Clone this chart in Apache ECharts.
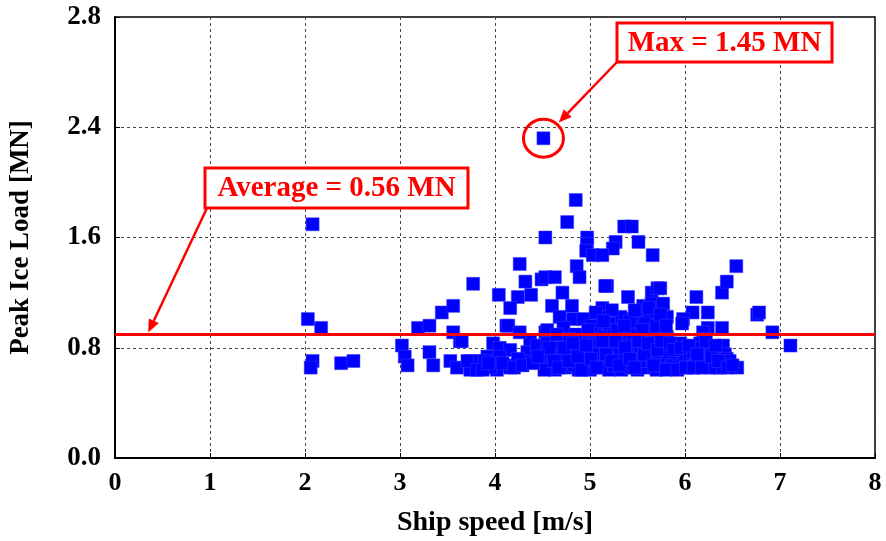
<!DOCTYPE html>
<html>
<head>
<meta charset="utf-8">
<script src="https://cdn.jsdelivr.net/npm/echarts@6/dist/echarts.min.js"></script>
<style>
  html, body { margin: 0; padding: 0; background: #fff; }
  #chart { width: 886px; height: 541px; }
</style>
</head>
<body>
<div id="chart"></div>
<script>
// Ship speed [m/s] of each measured ice impact
const shipSpeed = [
  2.03, 2.08, 2.17, 2.08, 2.06, 2.38, 2.51,
  3.02, 3.05, 3.08, 3.19, 3.31, 3.31, 3.35, 3.44, 3.56, 3.77, 3.56, 3.63, 3.53, 3.60, 3.74, 3.74, 3.65,
  3.71, 3.84, 3.92, 4.02, 4.12, 4.37, 4.45, 4.02, 4.04, 4.24, 4.38, 4.26, 4.32, 4.49, 4.16, 4.12, 4.14,
  4.26, 4.53, 3.98, 3.81, 3.89, 3.95, 4.05, 4.16, 4.34, 4.44, 4.34, 4.16, 4.05, 4.24,
  4.51, 4.85, 4.76, 4.53, 4.97, 4.97, 4.96, 5.03, 4.86, 4.53, 4.63, 4.89, 4.71, 5.18, 5.40, 5.65, 5.71,
  4.60, 4.81, 5.13, 5.56, 5.65, 4.68, 4.82, 4.93, 5.11, 5.35, 5.53, 5.66, 4.55, 4.72, 5.18, 5.39, 5.60,
  5.36, 5.44, 5.27, 5.24, 5.13, 5.51, 5.66, 5.16,
  5.74, 5.77, 5.81, 6.12, 6.24, 6.08, 5.98, 5.97, 6.39, 6.44, 6.54, 6.39, 6.24, 6.19, 6.21, 6.76, 6.78,
  6.92, 7.11, 5.77, 5.63, 5.49, 5.32, 5.81, 5.63, 5.45,
  4.55, 4.60, 4.58, 4.63, 4.68, 4.70, 4.74, 4.76, 4.80, 4.83, 4.86, 4.88, 4.90, 4.93, 4.95, 4.98, 5.00,
  5.02, 5.05, 5.08, 5.10, 5.12, 5.15, 5.18, 5.20, 5.22, 5.25, 5.28, 5.30, 5.33, 5.35, 5.38, 5.40, 5.43,
  5.46, 5.48, 5.50, 5.53, 5.55, 5.58, 5.60, 5.62, 5.65, 5.68, 5.70, 5.73, 5.76, 5.79, 5.82, 5.85, 5.87,
  5.90, 5.93, 5.97, 6.00, 6.05, 6.08, 6.12, 6.16, 6.19, 6.23, 6.26, 6.30, 6.33, 6.37, 6.40, 6.42, 6.44,
  6.55, 6.37, 6.26, 4.65, 4.85, 5.05, 5.25, 5.45, 5.65, 5.10, 4.72, 4.92, 5.32, 5.52, 5.72,
  4.50, 4.78, 5.03, 5.37, 5.57, 5.84, 6.02, 6.14, 6.28, 6.47, 5.95, 6.10,
  5.02, 5.06, 5.20, 5.23, 5.29, 5.42, 5.47, 5.58, 5.62, 5.70, 5.74, 5.80, 5.55, 5.36, 5.14, 4.98,
  4.47, 4.52, 4.57, 4.62, 4.67, 4.73, 4.78, 4.82, 4.87, 4.91, 4.96, 5.01, 5.07, 5.13, 5.17, 5.23, 5.27,
  5.31, 5.37, 5.42, 5.47, 5.51, 5.57, 5.61, 5.67, 5.71, 5.75, 5.80, 5.84, 5.88, 5.92, 5.96, 6.01, 6.04,
  6.09, 6.13, 6.18, 6.22, 6.28, 6.32, 6.35, 6.45, 6.50, 3.87, 3.93, 4.08, 4.20, 4.29, 4.40, 4.45
];

// Peak ice load [MN] for the same impacts
const peakLoad = [
  0.63, 1.06, 0.59, 0.44, 0.41, 0.43, 0.44,
  0.51, 0.46, 0.42, 0.59, 0.60, 0.48, 0.42, 0.66, 0.69, 0.79, 0.57, 0.53, 0.44, 0.41, 0.44, 0.40, 0.53,
  0.44, 0.44, 0.46, 0.44, 0.42, 0.53, 0.50, 0.40, 0.74, 0.73, 0.74, 0.88, 0.80, 0.81, 0.68, 0.60, 0.60,
  0.57, 0.57, 0.52, 0.40, 0.44, 0.41, 0.50, 0.49, 0.48, 0.51, 0.44, 0.41, 0.46, 0.45,
  1.45, 1.17, 1.07, 1.00, 1.00, 0.97, 0.94, 0.92, 0.87, 0.82, 0.82, 0.82, 0.75, 0.78, 0.73, 0.75, 0.77,
  0.69, 0.69, 0.68, 0.69, 0.70, 0.64, 0.63, 0.63, 0.64, 0.63, 0.64, 0.65, 0.58, 0.59, 0.58, 0.59, 0.59,
  1.05, 1.05, 0.98, 0.95, 0.92, 0.98, 0.92, 0.78,
  0.77, 0.70, 0.64, 0.73, 0.66, 0.66, 0.63, 0.61, 0.75, 0.80, 0.87, 0.59, 0.59, 0.57, 0.54, 0.65, 0.66,
  0.57, 0.51, 0.59, 0.63, 0.64, 0.64, 0.55, 0.57, 0.59,
  0.52, 0.47, 0.42, 0.40, 0.50, 0.44, 0.41, 0.53, 0.47, 0.42, 0.50, 0.40, 0.45, 0.53, 0.42, 0.48, 0.40,
  0.51, 0.44, 0.55, 0.41, 0.48, 0.44, 0.52, 0.40, 0.47, 0.42, 0.50, 0.45, 0.40, 0.53, 0.43, 0.48, 0.41,
  0.51, 0.45, 0.40, 0.49, 0.43, 0.54, 0.41, 0.47, 0.44, 0.51, 0.40, 0.46, 0.42, 0.49, 0.44, 0.41, 0.46,
  0.43, 0.47, 0.44, 0.46, 0.45, 0.48, 0.43, 0.52, 0.46, 0.42, 0.49, 0.44, 0.41, 0.46, 0.51, 0.47, 0.45,
  0.41, 0.41, 0.41, 0.56, 0.56, 0.57, 0.56, 0.56, 0.55, 0.52, 0.47, 0.45, 0.47, 0.44, 0.53,
  0.45, 0.54, 0.47, 0.51, 0.50, 0.48, 0.41, 0.50, 0.47, 0.44, 0.52, 0.41,
  0.60, 0.66, 0.61, 0.67, 0.58, 0.62, 0.67, 0.61, 0.68, 0.60, 0.65, 0.60, 0.58, 0.60, 0.62, 0.58,
  0.45, 0.40, 0.50, 0.44, 0.41, 0.50, 0.44, 0.52, 0.46, 0.40, 0.51, 0.45, 0.41, 0.53, 0.47, 0.44, 0.53,
  0.42, 0.50, 0.45, 0.41, 0.53, 0.47, 0.52, 0.42, 0.49, 0.53, 0.40, 0.52, 0.49, 0.40, 0.50, 0.41, 0.51,
  0.41, 0.47, 0.41, 0.53, 0.46, 0.51, 0.44, 0.41, 0.42, 0.40, 0.43, 0.43, 0.41, 0.42, 0.43, 0.46
];

const averageLoad = 0.56;
const maxLoad = 1.45;

// Axis ticks and the text printed at them
const xTicks = [0, 1, 2, 3, 4, 5, 6, 7, 8];
const yTickLabels = ['0.0', '0.8', '1.6', '2.4', '2.8'];

const averageText = 'Average = 0.56 MN';
const maxText = 'Max = 1.45 MN';

const serif = "'Times New Roman', 'Liberation Serif', serif";
const points = shipSpeed.map((s, i) => [s, peakLoad[i]]);
const maxIndex = peakLoad.indexOf(Math.max(...peakLoad));

const chart = echarts.init(document.getElementById('chart'));

chart.setOption({
  animation: false,
  backgroundColor: '#fff',
  grid: {
    left: 115, right: 11, top: 17, bottom: 83,
    containLabel: false, outerBoundsMode: 'none',
    show: true, borderColor: '#000', borderWidth: 1.5, backgroundColor: 'transparent'
  },
  xAxis: {
    type: 'value',
    min: xTicks[0], max: xTicks[xTicks.length - 1], interval: 1,
    name: 'Ship speed [m/s]', nameLocation: 'middle', nameGap: 51,
    nameTextStyle: { fontFamily: serif, fontWeight: 'bold', fontSize: 28, color: '#000' },
    axisLine: { show: true, lineStyle: { color: '#000', width: 2 } },
    axisTick: { show: true, inside: true, length: 5, lineStyle: { color: '#000' } },
    axisLabel: { fontFamily: serif, fontWeight: 'bold', fontSize: 26, color: '#000', margin: 12 },
    splitLine: { show: true, lineStyle: { color: '#444', type: [3, 3], width: 1 } }
  },
  yAxis: {
    type: 'value',
    min: 0, max: 2, interval: 0.5,
    name: 'Peak Ice Load [MN]', nameLocation: 'middle', nameGap: 80, nameRotate: 90,
    nameTextStyle: { fontFamily: serif, fontWeight: 'bold', fontSize: 27, color: '#000' },
    axisLine: { show: true, lineStyle: { color: '#000', width: 2 } },
    axisTick: { show: true, inside: true, length: 5, lineStyle: { color: '#000' } },
    axisLabel: {
      fontFamily: serif, fontWeight: 'bold', fontSize: 27, color: '#000', margin: 14,
      formatter: v => yTickLabels[Math.round(v / 0.5)]
    },
    splitLine: { show: true, lineStyle: { color: '#444', type: [3, 3], width: 1 } }
  },
  series: [{
    type: 'scatter',
    data: points,
    symbol: 'rect',
    symbolSize: 13,
    itemStyle: { color: '#0000ff', borderColor: '#3a3aff', borderWidth: 0.5, opacity: 1 },
    z: 3,
    markLine: {
      silent: true,
      symbol: 'none',
      label: { show: false },
      lineStyle: { color: '#ff0000', width: 3, type: 'solid' },
      data: [{ yAxis: averageLoad }],
      z: 4
    }
  }]
});

// Callouts: boxes, arrows and the ring around the largest load
const maxPt = chart.convertToPixel({ gridIndex: 0 }, points[maxIndex]);
const avgTip = chart.convertToPixel({ gridIndex: 0 }, [0.35, averageLoad]);

function arrow(x1, y1, x2, y2) {
  const ang = Math.atan2(y2 - y1, x2 - x1);
  const len = 13, half = 5.5;
  const bx = x2 - len * Math.cos(ang), by = y2 - len * Math.sin(ang);
  const px = -Math.sin(ang) * half, py = Math.cos(ang) * half;
  return [
    { type: 'line', shape: { x1, y1, x2: bx, y2: by }, style: { stroke: '#ff0000', lineWidth: 2.5 }, z: 10 },
    { type: 'polygon', shape: { points: [[x2, y2], [bx + px, by + py], [bx - px, by - py]] }, style: { fill: '#ff0000' }, z: 10 }
  ];
}

function callout(x, y, w, h, text) {
  return [
    { type: 'rect', shape: { x, y, width: w, height: h }, style: { fill: '#fff', stroke: '#ff0000', lineWidth: 3 }, z: 11 },
    { type: 'text', x: x + w / 2, y: y + h / 2 + 1, style: {
        text, fill: '#ff0000', font: 'bold 29px ' + serif, align: 'center', verticalAlign: 'middle'
      }, z: 12 }
  ];
}

const ringR = 20;
const ang = Math.atan2(62 - maxPt[1], 617 - maxPt[0]);
const ringEdge = [maxPt[0] + (ringR + 2) * Math.cos(ang), maxPt[1] + (ringR + 2) * Math.sin(ang)];

chart.setOption({
  graphic: [
    ...arrow(207, 208, avgTip[0], avgTip[1] - 2),
    ...arrow(617, 62, ringEdge[0], ringEdge[1]),
    { type: 'ellipse', shape: { cx: maxPt[0], cy: maxPt[1], rx: ringR, ry: ringR - 1 },
      style: { fill: 'none', stroke: '#ff0000', lineWidth: 3 }, z: 10 },
    ...callout(205, 168, 263, 40, averageText),
    ...callout(617, 23, 215, 39, maxText)
  ]
});
</script>
</body>
</html>
